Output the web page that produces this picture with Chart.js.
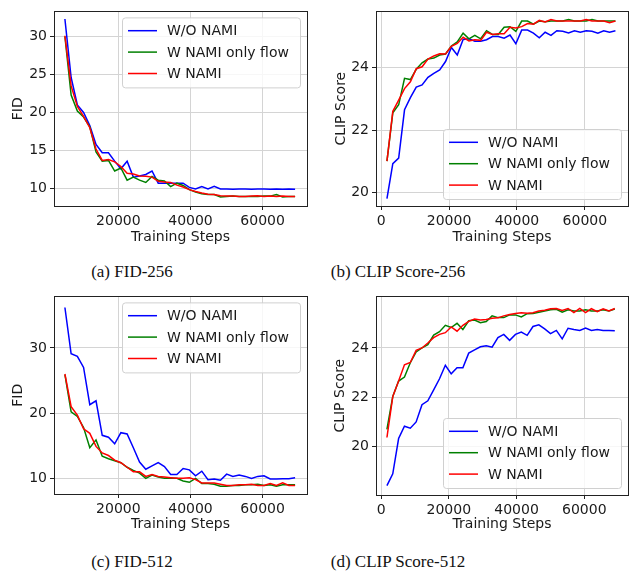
<!DOCTYPE html>
<html>
<head>
  <title>NAMI training curves</title>
  <script src="https://cdn.jsdelivr.net/npm/chart.js@4.4.0/dist/chart.umd.min.js"></script>
  <style>
    body { margin: 0; background: #fff; }
    canvas { position: absolute; }
    .cap { position: absolute; width: 260px; text-align: center; font-family: "Liberation Serif", "Times New Roman", serif; font-size: 17px; line-height: 20px; color: #111; }
  </style>
</head>
<body>
  <canvas id="fid256" width="315" height="250" style="left:0;top:0"></canvas>
  <canvas id="clip256" width="316" height="250" style="left:315px;top:0"></canvas>
  <canvas id="fid512" width="315" height="250" style="left:0;top:285px"></canvas>
  <canvas id="clip512" width="316" height="250" style="left:315px;top:285px"></canvas>
  <div class="cap" style="left:2px;top:262px">(a) FID-256</div>
  <div class="cap" style="left:268px;top:262px">(b) CLIP Score-256</div>
  <div class="cap" style="left:2px;top:552px">(c) FID-512</div>
  <div class="cap" style="left:268px;top:552px">(d) CLIP Score-512</div>
  <script>
    // series names and colours
    var seriesNames = ['W/O NAMI', 'W NAMI only flow', 'W NAMI'];
    var seriesColors = ['#0000ff', '#008000', '#ff0000'];

    // training steps (CLIP evaluated from the first checkpoint, FID from the third)
    var clipSteps = [1725, 3450, 5175, 6900, 8625, 10350, 12075, 13800, 15525, 17250,
      18975, 20700, 22425, 24150, 25875, 27600, 29325, 31050, 32775, 34500,
      36225, 37950, 39675, 41400, 43125, 44850, 46575, 48300, 50025, 51750,
      53475, 55200, 56925, 58650, 60375, 62100, 63825, 65550, 67275, 69000];
    var fidSteps = [5175, 6900, 8625, 10350, 12075, 13800, 15525, 17250,
      18975, 20700, 22425, 24150, 25875, 27600, 29325, 31050, 32775, 34500,
      36225, 37950, 39675, 41400, 43125, 44850, 46575, 48300, 50025, 51750,
      53475, 55200, 56925, 58650, 60375, 62100, 63825, 65550, 67275, 69000];

    // tick labels
    var xTicks = [0, 20000, 40000, 60000];
    var fid256Ticks = [10, 15, 20, 25, 30];
    var fid512Ticks = [10, 20, 30];
    var clipTicks = [20, 22, 24];

    // (a) FID-256
    var fid256Wo = [32.3, 24.6, 21.0, 20.0, 18.3, 15.8, 14.7, 14.7, 13.6, 12.6, 13.6, 11.5, 11.65, 11.85, 12.3, 10.7, 10.7, 10.7, 10.7, 10.7,
      10.15, 9.95, 10.25, 9.95, 10.3, 9.95, 9.95, 9.9, 9.95, 9.95, 9.9, 9.95, 9.95, 9.9, 9.95, 9.9, 9.95, 9.9];
    var fid256Flow = [30.0, 22.3, 20.2, 19.4, 18.1, 14.8, 13.6, 13.7, 12.3, 12.7, 11.1, 11.5, 11.1, 10.8, 11.6, 11.1, 11.0, 10.25, 10.7, 10.4,
      9.85, 9.55, 9.3, 9.2, 9.2, 8.9, 8.95, 9.0, 8.95, 8.95, 8.95, 8.95, 9.0, 9.0, 9.2, 8.9, 8.95, 8.95];
    var fid256Nami = [30.1, 23.5, 20.8, 19.5, 18.0, 15.2, 13.7, 13.8, 13.5, 12.9, 12.0, 11.9, 11.65, 11.6, 11.5, 10.95, 10.85, 10.8, 10.45, 10.2,
      9.85, 9.6, 9.4, 9.25, 9.2, 9.05, 9.0, 9.0, 8.95, 8.95, 9.0, 9.05, 8.95, 9.0, 8.95, 9.0, 8.95, 8.95];

    // (b) CLIP Score-256
    var clip256Wo = [19.8, 20.92, 21.1, 22.65, 23.04, 23.38, 23.45, 23.69, 23.82, 23.93, 24.2, 24.65, 24.41, 24.91, 24.93, 24.85, 24.85, 24.9, 25.0, 25.0,
      24.95, 25.05, 24.77, 25.21, 25.21, 25.11, 24.96, 25.14, 25.04, 25.19, 25.17, 25.12, 25.19, 25.14, 25.19, 25.17, 25.11, 25.19, 25.14, 25.19];
    var clip256Flow = [21.0, 22.55, 22.81, 23.66, 23.62, 23.95, 24.16, 24.28, 24.31, 24.41, 24.44, 24.7, 24.83, 25.11, 24.93, 25.04, 24.93, 25.19, 25.07, 25.07,
      25.3, 25.32, 25.17, 25.5, 25.5, 25.4, 25.5, 25.48, 25.5, 25.5, 25.5, 25.55, 25.5, 25.5, 25.5, 25.55, 25.5, 25.5, 25.5, 25.5];
    var clip256Nami = [21.0, 22.6, 22.96, 23.33, 23.55, 23.97, 24.03, 24.28, 24.38, 24.45, 24.44, 24.69, 24.78, 24.98, 24.86, 24.9, 24.88, 25.14, 25.07, 25.09,
      25.09, 25.3, 25.28, 25.32, 25.42, 25.4, 25.52, 25.47, 25.55, 25.5, 25.5, 25.5, 25.5, 25.5, 25.55, 25.5, 25.5, 25.5, 25.45, 25.5];

    // (c) FID-512
    var fid512Wo = [36.2, 29.1, 28.7, 27.0, 21.3, 21.9, 16.6, 16.3, 15.3, 17.0, 16.8, 14.7, 12.5, 11.4, 11.9, 12.4, 11.8, 10.6, 10.6, 11.5,
      11.3, 10.4, 11.1, 9.8, 9.9, 9.7, 10.65, 10.3, 10.5, 10.3, 10.0, 10.3, 10.4, 9.9, 9.9, 9.95, 9.95, 10.1];
    var fid512Flow = [25.9, 20.2, 19.5, 17.8, 14.7, 15.9, 13.4, 13.0, 12.7, 12.4, 11.7, 11.2, 10.8, 10.0, 10.5, 10.2, 10.0, 10.0, 10.0, 9.6,
      9.4, 10.0, 9.2, 9.2, 9.1, 8.8, 8.8, 8.9, 8.9, 9.0, 9.0, 9.1, 8.9, 9.0, 8.8, 9.0, 9.0, 9.0];
    var fid512Nami = [26.0, 21.0, 19.7, 17.6, 16.9, 14.9, 13.9, 13.5, 12.8, 12.4, 11.7, 11.0, 11.0, 10.3, 10.6, 10.3, 10.2, 10.1, 10.0, 10.0,
      10.1, 9.8, 9.3, 9.3, 9.3, 9.1, 8.9, 8.9, 9.0, 9.0, 9.1, 8.9, 8.9, 9.2, 8.9, 9.3, 8.9, 8.9];

    // (d) CLIP Score-512
    var clip512Wo = [18.42, 18.9, 20.33, 20.83, 20.75, 21.0, 21.7, 21.86, 22.3, 22.75, 23.3, 22.95, 23.2, 23.2, 23.79, 23.92, 24.05, 24.09, 24.03, 24.42,
      24.55, 24.31, 24.55, 24.64, 24.51, 24.87, 24.94, 24.77, 24.58, 24.71, 24.37, 24.8, 24.75, 24.71, 24.81, 24.71, 24.75, 24.71, 24.71, 24.7];
    var clip512Flow = [20.7, 22.03, 22.66, 22.82, 23.4, 23.84, 24.0, 24.13, 24.52, 24.66, 24.92, 24.83, 25.0, 24.75, 25.1, 25.13, 25.02, 25.07, 25.3, 25.23,
      25.23, 25.34, 25.34, 25.26, 25.39, 25.4, 25.45, 25.5, 25.55, 25.57, 25.45, 25.55, 25.5, 25.5, 25.55, 25.5, 25.5, 25.55, 25.5, 25.58];
    var clip512Nami = [20.37, 22.03, 22.66, 23.32, 23.41, 23.9, 24.0, 24.2, 24.42, 24.55, 24.62, 24.85, 24.68, 24.92, 25.08, 25.17, 25.13, 25.15, 25.2, 25.22,
      25.3, 25.36, 25.4, 25.43, 25.41, 25.43, 25.5, 25.53, 25.59, 25.6, 25.52, 25.6, 25.43, 25.6, 25.43, 25.59, 25.47, 25.59, 25.5, 25.6];

    var sans = 'DejaVu Sans';
    var textColor = '#1a1a1a';

    // frame around the axes and a matplotlib-like legend box inside the plot
    var boxLegend = {
      id: 'boxLegend',
      afterDraw: function(chart, args, opts) {
        var ctx = chart.ctx, a = chart.chartArea;
        ctx.save();
        ctx.strokeStyle = '#222';
        ctx.lineWidth = 1;
        ctx.strokeRect(Math.round(a.left) + 0.5, Math.round(a.top) + 0.5,
          Math.round(a.right - a.left), Math.round(a.bottom - a.top));

        var w = 178, h = 70;
        var x = a.right - 7 - w;
        var y = opts.where === 'upper' ? a.top + 6 : a.bottom - 7 - h;
        ctx.beginPath();
        ctx.roundRect(x + 0.5, y + 0.5, w, h, 3);
        ctx.fillStyle = 'rgba(255,255,255,0.8)';
        ctx.fill();
        ctx.strokeStyle = '#d0d0d0';
        ctx.stroke();
        ctx.font = '14px "' + sans + '"';
        ctx.textBaseline = 'middle';
        chart.data.datasets.forEach(function(ds, i) {
          var ry = y + 13.3 + i * 21.4;
          ctx.beginPath();
          ctx.moveTo(x + 6, ry);
          ctx.lineTo(x + 35, ry);
          ctx.strokeStyle = ds.borderColor;
          ctx.lineWidth = 1.5;
          ctx.stroke();
          ctx.fillStyle = textColor;
          ctx.fillText(ds.label, x + 45, ry + 1);
        });
        ctx.restore();
      }
    };

    function makeChart(id, steps, series, yTicks, c) {
      new Chart(document.getElementById(id), {
        type: 'line',
        data: {
          datasets: series.map(function(vals, i) {
            return {
              label: seriesNames[i],
              data: steps.map(function(s, j) { return {x: s, y: vals[j]}; }),
              borderColor: seriesColors[i],
              borderWidth: 1.5,
              pointRadius: 0,
              tension: 0,
              fill: false,
              order: 3 - i
            };
          })
        },
        options: {
          responsive: false,
          animation: false,
          layout: { padding: { left: 0, top: c.top, right: c.right, bottom: 0 } },
          plugins: {
            legend: { display: false },
            tooltip: { enabled: false },
            boxLegend: { where: c.legend }
          },
          scales: {
            x: {
              type: 'linear',
              min: c.xmin, max: c.xmax,
              afterBuildTicks: function(ax) {
                ax.ticks = xTicks.filter(function(v) { return v >= ax.min; }).map(function(v) { return {value: v}; });
              },
              afterFit: function(ax) { ax.height = c.xh; },
              grid: { color: '#d4d4d4', lineWidth: 1, tickColor: '#222', tickLength: 4 },
              border: { display: false },
              ticks: { font: { family: sans, size: 14 }, color: textColor, padding: 3, maxRotation: 0,
                callback: function(v) { return String(v); } },
              title: { display: true, text: 'Training Steps', font: { family: sans, size: 14 }, color: textColor,
                padding: { top: 0, bottom: c.xtp } }
            },
            y: {
              min: c.ymin, max: c.ymax,
              afterBuildTicks: function(ax) {
                ax.ticks = yTicks.map(function(v) { return {value: v}; });
              },
              afterFit: function(ax) { ax.width = c.yw; },
              grid: { color: '#d4d4d4', lineWidth: 1, tickColor: '#222', tickLength: 4 },
              border: { display: false },
              ticks: { font: { family: sans, size: 14 }, color: textColor, padding: 3,
                callback: function(v) { return String(v); } },
              title: { display: true, text: c.ylabel, font: { family: sans, size: 14 }, color: textColor,
                padding: { top: c.ytp, bottom: 0 } }
            }
          }
        },
        plugins: [boxLegend]
      });
    }

    makeChart('fid256', fidSteps, [fid256Wo, fid256Flow, fid256Nami], fid256Ticks,
      { top: 5, right: 8, yw: 54, xh: 44, xmin: 2150, xmax: 72300, ymin: 7.7, ymax: 33.3,
        ylabel: 'FID', ytp: 9.6, xtp: 4.3, legend: 'upper' });
    makeChart('clip256', clipSteps, [clip256Wo, clip256Flow, clip256Nami], clipTicks,
      { top: 5, right: 3, yw: 61, xh: 44, xmin: -1500, xmax: 72700, ymin: 19.56, ymax: 25.81,
        ylabel: 'CLIP Score', ytp: 18.3, xtp: 4.3, legend: 'lower' });
    makeChart('fid512', fidSteps, [fid512Wo, fid512Flow, fid512Nami], fid512Ticks,
      { top: 5, right: 8, yw: 54, xh: 41, xmin: 2150, xmax: 72300, ymin: 7.6, ymax: 37.9,
        ylabel: 'FID', ytp: 9.9, xtp: 2.3, legend: 'upper' });
    makeChart('clip512', clipSteps, [clip512Wo, clip512Flow, clip512Nami], clipTicks,
      { top: 5, right: 3, yw: 61, xh: 40, xmin: -1500, xmax: 72900, ymin: 18.04, ymax: 26.09,
        ylabel: 'CLIP Score', ytp: 16.6, xtp: 2.3, legend: 'lower' });
  </script>
</body>
</html>
